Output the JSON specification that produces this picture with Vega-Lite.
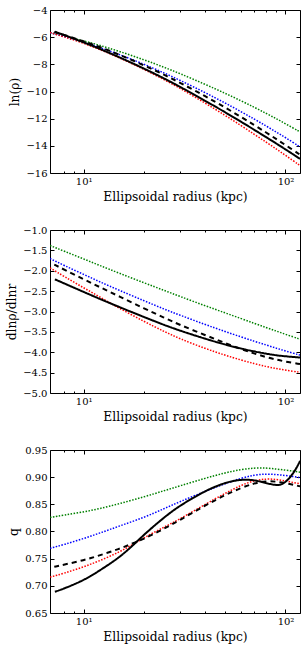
{
  "$schema": "https://vega.github.io/schema/vega-lite/v6.json",
  "padding": {"left": 5, "top": 5, "right": 5, "bottom": 5},
  "spacing": 57,
  "bounds": "flush",
  "resolve": {"scale": {"x": "independent", "y": "independent"}},
  "config": {
    "view": {"stroke": null},
    "axis": {"labelFont": "DejaVu Serif", "labelFontSize": 10, "titleFont": "DejaVu Serif", "titleFontSize": 12.3, "titleFontWeight": "normal", "labelColor": "black", "titleColor": "black", "tickColor": "black", "domainColor": "black", "domainWidth": 1, "tickWidth": 1, "grid": false}
  },
  "datasets": {
    "d1": [
      {"s":"g","r":6.81,"v":-5.67},{"s":"g","r":8,"v":-5.91},{"s":"g","r":10,"v":-6.27},{"s":"g","r":12,"v":-6.60},{"s":"g","r":15,"v":-7.04},{"s":"g","r":20,"v":-7.67},{"s":"g","r":25,"v":-8.21},{"s":"g","r":30,"v":-8.68},{"s":"g","r":40,"v":-9.47},{"s":"g","r":50,"v":-10.12},{"s":"g","r":60,"v":-10.67},{"s":"g","r":70,"v":-11.16},{"s":"g","r":80,"v":-11.60},{"s":"g","r":90,"v":-12.00},{"s":"g","r":100,"v":-12.37},{"s":"g","r":118,"v":-12.97},
      {"s":"b","r":6.81,"v":-5.67},{"s":"b","r":8,"v":-5.95},{"s":"b","r":10,"v":-6.37},{"s":"b","r":12,"v":-6.75},{"s":"b","r":15,"v":-7.27},{"s":"b","r":20,"v":-8.00},{"s":"b","r":25,"v":-8.63},{"s":"b","r":30,"v":-9.17},{"s":"b","r":40,"v":-10.08},{"s":"b","r":50,"v":-10.83},{"s":"b","r":60,"v":-11.47},{"s":"b","r":70,"v":-12.03},{"s":"b","r":80,"v":-12.53},{"s":"b","r":90,"v":-12.98},{"s":"b","r":100,"v":-13.39},{"s":"b","r":118,"v":-14.08},
      {"s":"r","r":6.81,"v":-5.66},{"s":"r","r":8,"v":-5.97},{"s":"r","r":10,"v":-6.45},{"s":"r","r":12,"v":-6.90},{"s":"r","r":15,"v":-7.51},{"s":"r","r":20,"v":-8.38},{"s":"r","r":25,"v":-9.12},{"s":"r","r":30,"v":-9.76},{"s":"r","r":40,"v":-10.85},{"s":"r","r":50,"v":-11.74},{"s":"r","r":60,"v":-12.49},{"s":"r","r":70,"v":-13.15},{"s":"r","r":80,"v":-13.72},{"s":"r","r":90,"v":-14.23},{"s":"r","r":100,"v":-14.70},{"s":"r","r":118,"v":-15.45},
      {"s":"kd","r":7.15,"v":-5.62},{"s":"kd","r":8,"v":-5.83},{"s":"kd","r":10,"v":-6.30},{"s":"kd","r":12,"v":-6.72},{"s":"kd","r":15,"v":-7.28},{"s":"kd","r":20,"v":-8.08},{"s":"kd","r":25,"v":-8.76},{"s":"kd","r":30,"v":-9.35},{"s":"kd","r":40,"v":-10.34},{"s":"kd","r":50,"v":-11.16},{"s":"kd","r":60,"v":-11.86},{"s":"kd","r":70,"v":-12.47},{"s":"kd","r":80,"v":-13.01},{"s":"kd","r":90,"v":-13.50},{"s":"kd","r":100,"v":-13.94},{"s":"kd","r":118,"v":-14.65},
      {"s":"k","r":7.2,"v":-5.60},{"s":"k","r":8,"v":-5.84},{"s":"k","r":10,"v":-6.38},{"s":"k","r":12,"v":-6.85},{"s":"k","r":15,"v":-7.47},{"s":"k","r":20,"v":-8.32},{"s":"k","r":25,"v":-9.03},{"s":"k","r":30,"v":-9.65},{"s":"k","r":40,"v":-10.68},{"s":"k","r":50,"v":-11.51},{"s":"k","r":60,"v":-12.21},{"s":"k","r":70,"v":-12.82},{"s":"k","r":80,"v":-13.35},{"s":"k","r":90,"v":-13.83},{"s":"k","r":100,"v":-14.26},{"s":"k","r":118,"v":-14.96}
    ],
    "d2": [
      {"s":"g","r":6.81,"v":-1.38},{"s":"g","r":8,"v":-1.52},{"s":"g","r":10,"v":-1.71},{"s":"g","r":12,"v":-1.87},{"s":"g","r":15,"v":-2.06},{"s":"g","r":20,"v":-2.30},{"s":"g","r":25,"v":-2.48},{"s":"g","r":30,"v":-2.63},{"s":"g","r":40,"v":-2.86},{"s":"g","r":50,"v":-3.03},{"s":"g","r":60,"v":-3.17},{"s":"g","r":70,"v":-3.29},{"s":"g","r":80,"v":-3.39},{"s":"g","r":90,"v":-3.48},{"s":"g","r":100,"v":-3.56},{"s":"g","r":118,"v":-3.68},
      {"s":"b","r":6.81,"v":-1.70},{"s":"b","r":8,"v":-1.87},{"s":"b","r":10,"v":-2.09},{"s":"b","r":12,"v":-2.27},{"s":"b","r":15,"v":-2.48},{"s":"b","r":20,"v":-2.74},{"s":"b","r":25,"v":-2.94},{"s":"b","r":30,"v":-3.09},{"s":"b","r":40,"v":-3.32},{"s":"b","r":50,"v":-3.49},{"s":"b","r":60,"v":-3.62},{"s":"b","r":70,"v":-3.73},{"s":"b","r":80,"v":-3.82},{"s":"b","r":90,"v":-3.90},{"s":"b","r":100,"v":-3.97},{"s":"b","r":118,"v":-4.07},
      {"s":"r","r":6.81,"v":-1.93},{"s":"r","r":8,"v":-2.14},{"s":"r","r":10,"v":-2.42},{"s":"r","r":12,"v":-2.64},{"s":"r","r":15,"v":-2.92},{"s":"r","r":20,"v":-3.25},{"s":"r","r":25,"v":-3.49},{"s":"r","r":30,"v":-3.67},{"s":"r","r":40,"v":-3.91},{"s":"r","r":50,"v":-4.07},{"s":"r","r":60,"v":-4.19},{"s":"r","r":70,"v":-4.28},{"s":"r","r":80,"v":-4.35},{"s":"r","r":90,"v":-4.40},{"s":"r","r":100,"v":-4.44},{"s":"r","r":118,"v":-4.49},
      {"s":"kd","r":7.15,"v":-1.85},{"s":"kd","r":8,"v":-1.97},{"s":"kd","r":10,"v":-2.21},{"s":"kd","r":12,"v":-2.40},{"s":"kd","r":15,"v":-2.63},{"s":"kd","r":20,"v":-2.93},{"s":"kd","r":25,"v":-3.15},{"s":"kd","r":30,"v":-3.33},{"s":"kd","r":40,"v":-3.58},{"s":"kd","r":50,"v":-3.77},{"s":"kd","r":60,"v":-3.92},{"s":"kd","r":70,"v":-4.03},{"s":"kd","r":80,"v":-4.12},{"s":"kd","r":90,"v":-4.18},{"s":"kd","r":100,"v":-4.23},{"s":"kd","r":118,"v":-4.29},
      {"s":"k","r":7.2,"v":-2.21},{"s":"k","r":8,"v":-2.31},{"s":"k","r":10,"v":-2.52},{"s":"k","r":12,"v":-2.69},{"s":"k","r":15,"v":-2.89},{"s":"k","r":20,"v":-3.14},{"s":"k","r":25,"v":-3.33},{"s":"k","r":30,"v":-3.47},{"s":"k","r":40,"v":-3.67},{"s":"k","r":50,"v":-3.81},{"s":"k","r":60,"v":-3.91},{"s":"k","r":70,"v":-3.98},{"s":"k","r":80,"v":-4.035},{"s":"k","r":90,"v":-4.075},{"s":"k","r":100,"v":-4.10},{"s":"k","r":118,"v":-4.13}
    ],
    "d3": [
      {"s":"g","r":6.81,"v":0.826},{"s":"g","r":8,"v":0.830},{"s":"g","r":10,"v":0.836},{"s":"g","r":12,"v":0.842},{"s":"g","r":15,"v":0.851},{"s":"g","r":20,"v":0.864},{"s":"g","r":25,"v":0.875},{"s":"g","r":30,"v":0.884},{"s":"g","r":40,"v":0.898},{"s":"g","r":50,"v":0.908},{"s":"g","r":60,"v":0.914},{"s":"g","r":70,"v":0.917},{"s":"g","r":80,"v":0.917},{"s":"g","r":90,"v":0.915},{"s":"g","r":100,"v":0.913},{"s":"g","r":110,"v":0.911},{"s":"g","r":118,"v":0.909},
      {"s":"b","r":6.81,"v":0.769},{"s":"b","r":8,"v":0.776},{"s":"b","r":10,"v":0.787},{"s":"b","r":12,"v":0.797},{"s":"b","r":15,"v":0.810},{"s":"b","r":20,"v":0.826},{"s":"b","r":25,"v":0.842},{"s":"b","r":30,"v":0.855},{"s":"b","r":40,"v":0.874},{"s":"b","r":50,"v":0.888},{"s":"b","r":60,"v":0.898},{"s":"b","r":70,"v":0.904},{"s":"b","r":80,"v":0.906},{"s":"b","r":90,"v":0.905},{"s":"b","r":100,"v":0.903},{"s":"b","r":110,"v":0.901},{"s":"b","r":118,"v":0.899},
      {"s":"r","r":6.81,"v":0.716},{"s":"r","r":8,"v":0.723},{"s":"r","r":10,"v":0.735},{"s":"r","r":12,"v":0.746},{"s":"r","r":15,"v":0.762},{"s":"r","r":17.5,"v":0.776},{"s":"r","r":20,"v":0.789},{"s":"r","r":25,"v":0.808},{"s":"r","r":30,"v":0.823},{"s":"r","r":40,"v":0.850},{"s":"r","r":50,"v":0.870},{"s":"r","r":60,"v":0.885},{"s":"r","r":70,"v":0.894},{"s":"r","r":80,"v":0.897},{"s":"r","r":90,"v":0.896},{"s":"r","r":100,"v":0.893},{"s":"r","r":110,"v":0.890},{"s":"r","r":118,"v":0.888},
      {"s":"kd","r":7.15,"v":0.735},{"s":"kd","r":8,"v":0.739},{"s":"kd","r":10,"v":0.747},{"s":"kd","r":12,"v":0.756},{"s":"kd","r":15,"v":0.768},{"s":"kd","r":17.5,"v":0.778},{"s":"kd","r":20,"v":0.787},{"s":"kd","r":25,"v":0.805},{"s":"kd","r":30,"v":0.821},{"s":"kd","r":40,"v":0.848},{"s":"kd","r":50,"v":0.867},{"s":"kd","r":60,"v":0.880},{"s":"kd","r":70,"v":0.889},{"s":"kd","r":80,"v":0.893},{"s":"kd","r":90,"v":0.892},{"s":"kd","r":100,"v":0.889},{"s":"kd","r":110,"v":0.886},{"s":"kd","r":118,"v":0.883},
      {"s":"k","r":7.2,"v":0.689},{"s":"k","r":8,"v":0.695},{"s":"k","r":10,"v":0.710},{"s":"k","r":12,"v":0.728},{"s":"k","r":15,"v":0.752},{"s":"k","r":17.5,"v":0.774},{"s":"k","r":20,"v":0.795},{"s":"k","r":25,"v":0.826},{"s":"k","r":30,"v":0.848},{"s":"k","r":40,"v":0.875},{"s":"k","r":50,"v":0.890},{"s":"k","r":60,"v":0.896},{"s":"k","r":70,"v":0.895},{"s":"k","r":80,"v":0.889},{"s":"k","r":90,"v":0.885},{"s":"k","r":95,"v":0.886},{"s":"k","r":100,"v":0.891},{"s":"k","r":105,"v":0.899},{"s":"k","r":110,"v":0.909},{"s":"k","r":115,"v":0.921},{"s":"k","r":118,"v":0.930}
    ]
  },
  "vconcat": [
    {
      "width": 250, "height": 163,
      "data": {"name": "d1"},
      "layer": [
        {
          "transform": [{"filter": "datum.s == 'g' || datum.s == 'b' || datum.s == 'r'"}],
          "mark": {"type": "line", "clip": true, "interpolate": "basis", "strokeWidth": 1.5, "strokeDash": [1.5, 1.5]},
          "encoding": {
            "x": {"field": "r", "type": "quantitative", "scale": {"type": "log", "domain": [6.81, 118], "nice": false},
              "axis": {"orient": "bottom", "values": [8,9,10,20,30,40,50,60,70,80,90,100], "labelExpr": "datum.value == 10 ? '10¹' : datum.value == 100 ? '10²' : ''", "tickSize": {"condition": {"test": "datum.value == 10 || datum.value == 100", "value": -4}, "value": -2}, "labelPadding": 7, "title": "Ellipsoidal radius (kpc)"}},
            "y": {"field": "v", "type": "quantitative", "scale": {"domain": [-16, -4], "nice": false, "zero": false},
              "axis": {"orient": "left", "values": [-16,-14,-12,-10,-8,-6,-4], "format": ".0f", "tickSize": -4, "labelPadding": 7, "title": "ln(ρ)"}},
            "color": {"field": "s", "type": "nominal", "scale": {"domain": ["g","b","r"], "range": ["#008000","#0000ff","#ff0000"]}, "legend": null}
          }
        },
        {
          "transform": [{"filter": "datum.s == 'k' || datum.s == 'kd'"}],
          "mark": {"type": "line", "clip": true, "interpolate": "basis", "strokeWidth": 2, "color": "black"},
          "encoding": {
            "x": {"field": "r", "type": "quantitative", "scale": {"type": "log", "domain": [6.81, 118], "nice": false},
              "axis": {"orient": "top", "values": [8,9,10,20,30,40,50,60,70,80,90,100], "labels": false, "tickSize": {"condition": {"test": "datum.value == 10 || datum.value == 100", "value": -4}, "value": -2}, "title": null}},
            "y": {"field": "v", "type": "quantitative", "scale": {"domain": [-16, -4], "nice": false, "zero": false},
              "axis": {"orient": "right", "values": [-16,-14,-12,-10,-8,-6,-4], "labels": false, "tickSize": -4, "title": null}},
            "strokeDash": {"field": "s", "type": "nominal", "scale": {"domain": ["k","kd"], "range": [[1,0],[5,4]]}, "legend": null}
          }
        }
      ]
    },
    {
      "width": 250, "height": 163,
      "data": {"name": "d2"},
      "layer": [
        {
          "transform": [{"filter": "datum.s == 'g' || datum.s == 'b' || datum.s == 'r'"}],
          "mark": {"type": "line", "clip": true, "interpolate": "basis", "strokeWidth": 1.5, "strokeDash": [1.5, 1.5]},
          "encoding": {
            "x": {"field": "r", "type": "quantitative", "scale": {"type": "log", "domain": [6.81, 118], "nice": false},
              "axis": {"orient": "bottom", "values": [8,9,10,20,30,40,50,60,70,80,90,100], "labelExpr": "datum.value == 10 ? '10¹' : datum.value == 100 ? '10²' : ''", "tickSize": {"condition": {"test": "datum.value == 10 || datum.value == 100", "value": -4}, "value": -2}, "labelPadding": 7, "title": "Ellipsoidal radius (kpc)"}},
            "y": {"field": "v", "type": "quantitative", "scale": {"domain": [-5, -1], "nice": false, "zero": false},
              "axis": {"orient": "left", "values": [-5,-4.5,-4,-3.5,-3,-2.5,-2,-1.5,-1], "format": ".1f", "tickSize": -4, "labelPadding": 7, "title": "dlnρ/dlnr"}},
            "color": {"field": "s", "type": "nominal", "scale": {"domain": ["g","b","r"], "range": ["#008000","#0000ff","#ff0000"]}, "legend": null}
          }
        },
        {
          "transform": [{"filter": "datum.s == 'k' || datum.s == 'kd'"}],
          "mark": {"type": "line", "clip": true, "interpolate": "basis", "strokeWidth": 2, "color": "black"},
          "encoding": {
            "x": {"field": "r", "type": "quantitative", "scale": {"type": "log", "domain": [6.81, 118], "nice": false},
              "axis": {"orient": "top", "values": [8,9,10,20,30,40,50,60,70,80,90,100], "labels": false, "tickSize": {"condition": {"test": "datum.value == 10 || datum.value == 100", "value": -4}, "value": -2}, "title": null}},
            "y": {"field": "v", "type": "quantitative", "scale": {"domain": [-5, -1], "nice": false, "zero": false},
              "axis": {"orient": "right", "values": [-5,-4.5,-4,-3.5,-3,-2.5,-2,-1.5,-1], "labels": false, "tickSize": -4, "title": null}},
            "strokeDash": {"field": "s", "type": "nominal", "scale": {"domain": ["k","kd"], "range": [[1,0],[5,4]]}, "legend": null}
          }
        }
      ]
    },
    {
      "width": 250, "height": 163,
      "data": {"name": "d3"},
      "layer": [
        {
          "transform": [{"filter": "datum.s == 'g' || datum.s == 'b' || datum.s == 'r'"}],
          "mark": {"type": "line", "clip": true, "interpolate": "basis", "strokeWidth": 1.5, "strokeDash": [1.5, 1.5]},
          "encoding": {
            "x": {"field": "r", "type": "quantitative", "scale": {"type": "log", "domain": [6.81, 118], "nice": false},
              "axis": {"orient": "bottom", "values": [8,9,10,20,30,40,50,60,70,80,90,100], "labelExpr": "datum.value == 10 ? '10¹' : datum.value == 100 ? '10²' : ''", "tickSize": {"condition": {"test": "datum.value == 10 || datum.value == 100", "value": -4}, "value": -2}, "labelPadding": 7, "title": "Ellipsoidal radius (kpc)"}},
            "y": {"field": "v", "type": "quantitative", "scale": {"domain": [0.65, 0.95], "nice": false, "zero": false},
              "axis": {"orient": "left", "values": [0.65,0.7,0.75,0.8,0.85,0.9,0.95], "format": ".2f", "tickSize": -4, "labelPadding": 7, "title": "q"}},
            "color": {"field": "s", "type": "nominal", "scale": {"domain": ["g","b","r"], "range": ["#008000","#0000ff","#ff0000"]}, "legend": null}
          }
        },
        {
          "transform": [{"filter": "datum.s == 'k' || datum.s == 'kd'"}],
          "mark": {"type": "line", "clip": true, "interpolate": "basis", "strokeWidth": 2, "color": "black"},
          "encoding": {
            "x": {"field": "r", "type": "quantitative", "scale": {"type": "log", "domain": [6.81, 118], "nice": false},
              "axis": {"orient": "top", "values": [8,9,10,20,30,40,50,60,70,80,90,100], "labels": false, "tickSize": {"condition": {"test": "datum.value == 10 || datum.value == 100", "value": -4}, "value": -2}, "title": null}},
            "y": {"field": "v", "type": "quantitative", "scale": {"domain": [0.65, 0.95], "nice": false, "zero": false},
              "axis": {"orient": "right", "values": [0.65,0.7,0.75,0.8,0.85,0.9,0.95], "labels": false, "tickSize": -4, "title": null}},
            "strokeDash": {"field": "s", "type": "nominal", "scale": {"domain": ["k","kd"], "range": [[1,0],[5,4]]}, "legend": null}
          }
        }
      ]
    }
  ]
}
